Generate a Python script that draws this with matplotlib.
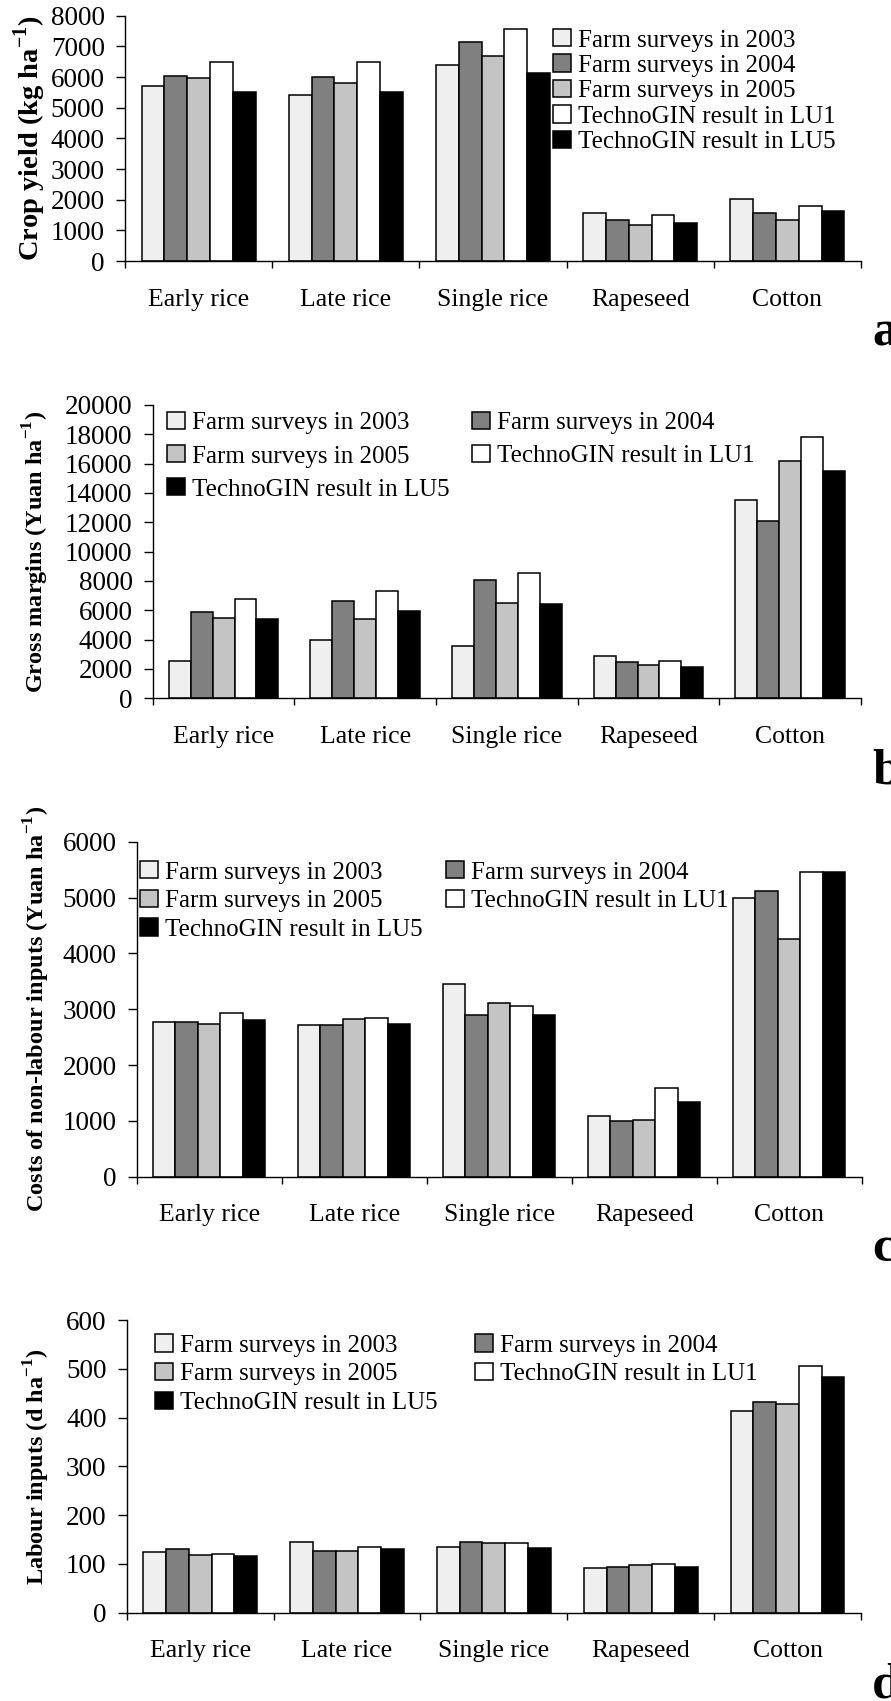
import numpy as np
import matplotlib
matplotlib.use('Agg')
import matplotlib.pyplot as plt

plt.rcParams['font.family'] = ['Liberation Serif', 'DejaVu Serif']
plt.rcParams['mathtext.fontset'] = 'custom'
plt.rcParams['mathtext.rm'] = 'Liberation Serif'
plt.rcParams['mathtext.bf'] = 'Liberation Serif:bold'

crops = ['Early rice', 'Late rice', 'Single rice', 'Rapeseed', 'Cotton']
series_names = ['Farm surveys in 2003', 'Farm surveys in 2004', 'Farm surveys in 2005',
                'TechnoGIN result in LU1', 'TechnoGIN result in LU5']

# a: crop yield (kg/ha)
yield_2003 = [5700, 5400, 6400, 1550, 2020]
yield_2004 = [6020, 5990, 7150, 1330, 1550]
yield_2005 = [5970, 5790, 6680, 1170, 1330]
yield_lu1 = [6500, 6500, 7570, 1500, 1780]
yield_lu5 = [5510, 5510, 6130, 1230, 1620]

# b: gross margins (Yuan/ha)
margin_2003 = [2550, 3950, 3550, 2860, 13500]
margin_2004 = [5900, 6610, 8100, 2470, 12100]
margin_2005 = [5500, 5410, 6520, 2290, 16180]
margin_lu1 = [6770, 7290, 8560, 2560, 17790]
margin_lu5 = [5430, 5930, 6410, 2110, 15500]

# c: costs of non-labour inputs (Yuan/ha)
cost_2003 = [2770, 2720, 3450, 1090, 5000]
cost_2004 = [2770, 2720, 2900, 990, 5120]
cost_2005 = [2740, 2820, 3110, 1020, 4250]
cost_lu1 = [2930, 2850, 3060, 1580, 5460]
cost_lu5 = [2800, 2730, 2900, 1330, 5460]

# d: labour inputs (d/ha)
labour_2003 = [124, 144, 135, 91, 414]
labour_2004 = [130, 127, 144, 94, 431]
labour_2005 = [118, 127, 142, 97, 428]
labour_lu1 = [121, 135, 142, 100, 505]
labour_lu5 = [116, 130, 133, 94, 483]

colors = ['#efefef', '#808080', '#c4c4c4', 'white', 'black']

W, H = 891, 1701
fig = plt.figure(figsize=(W / 100, H / 100), dpi=100)


def px_axes(left, right, top, bottom):
    return fig.add_axes([left / W, 1 - bottom / H, (right - left) / W, (bottom - top) / H])


panels = [
    dict(box=(125, 861, 15.7, 261), data=[yield_2003, yield_2004, yield_2005, yield_lu1, yield_lu5],
         ymax=8000, step=1000, ylabel=r'Crop yield (kg ha$^{\mathbf{-1}}$)', ylx=30, yls=20.5,
         letter='a', lety=345, leg=dict(x=553, y=29, ncol=1, order=[0, 1, 2, 3, 4], spacing=0.12, colsp=0)),
    dict(box=(152.7, 861, 405, 698.3), data=[margin_2003, margin_2004, margin_2005, margin_lu1, margin_lu5],
         ymax=20000, step=2000, ylabel=r'Gross margins (Yuan ha$^{\mathbf{-1}}$)', ylx=36, yls=17.5,
         letter='b', lety=783, leg=dict(x=167, y=412, ncol=2, order=[0, 2, 4, 1, 3], spacing=0.42, colsp=0.9)),
    dict(box=(136.7, 861.7, 841.7, 1176.7), data=[cost_2003, cost_2004, cost_2005, cost_lu1, cost_lu5],
         ymax=6000, step=1000, ylabel=r'Costs of non-labour inputs (Yuan ha$^{\mathbf{-1}}$)', ylx=37, yls=17.5,
         letter='c', lety=1261, leg=dict(x=140, y=861, ncol=2, order=[0, 2, 4, 1, 3], spacing=0.25, colsp=0.95)),
    dict(box=(126.7, 861, 1320, 1612.7), data=[labour_2003, labour_2004, labour_2005, labour_lu1, labour_lu5],
         ymax=600, step=100, ylabel=r'Labour inputs (d ha$^{\mathbf{-1}}$)', ylx=37, yls=17.5,
         letter='d', lety=1697, leg=dict(x=155, y=1334, ncol=2, order=[0, 2, 4, 1, 3], spacing=0.25, colsp=1.5)),
]

x = np.arange(len(crops)) + 0.5
bw = 0.155

for p in panels:
    left, right, top, bottom = p['box']
    ax = px_axes(left, right, top, bottom)
    handles = []
    for i, (vals, name) in enumerate(zip(p['data'], series_names)):
        h = ax.bar(x + (i - 2) * bw, vals, width=bw, color=colors[i], edgecolor='black',
                   linewidth=1.1, label=name)
        handles.append(h)
    ax.set_xlim(0, len(crops))
    ax.set_ylim(0, p['ymax'])
    ax.set_yticks(np.arange(0, p['ymax'] + 1, p['step']))
    ax.tick_params(axis='y', direction='out', length=6.5, width=1.0, pad=8, labelsize=19.5)
    ax.set_xticks(np.arange(0, len(crops) + 1))
    ax.set_xticklabels([])
    ax.tick_params(axis='x', which='major', direction='out', length=5, width=1.0)
    ax.set_xticks(x, crops, minor=True)
    ax.tick_params(axis='x', which='minor', length=0, pad=20, labelsize=18.5)
    ax.spines['top'].set_visible(False)
    ax.spines['right'].set_visible(False)
    ax.spines['left'].set_linewidth(1.0)
    ax.spines['bottom'].set_linewidth(1.0)

    fig.text(p['ylx'] / W, 1 - (top + bottom) / 2 / H, p['ylabel'], rotation=90,
             ha='center', va='center', fontsize=p['yls'], fontweight='bold')

    lg = p['leg']
    order = lg['order']
    ax.legend([handles[k] for k in order], [series_names[k] for k in order],
              loc='upper left', bbox_to_anchor=(lg['x'] / W, 1 - lg['y'] / H),
              bbox_transform=fig.transFigure, ncol=lg['ncol'], frameon=False,
              fontsize=18, handlelength=0.7, handleheight=0.7, handletextpad=0.3,
              labelspacing=lg['spacing'], columnspacing=lg['colsp'],
              borderpad=0, borderaxespad=0)

    # panel letter sits partly past the right edge, as in the source figure
    fig.text(872 / W, 1 - p['lety'] / H, p['letter'], ha='left', va='baseline',
             fontsize=37, fontweight='bold')

fig.savefig('out.png', dpi=100)
